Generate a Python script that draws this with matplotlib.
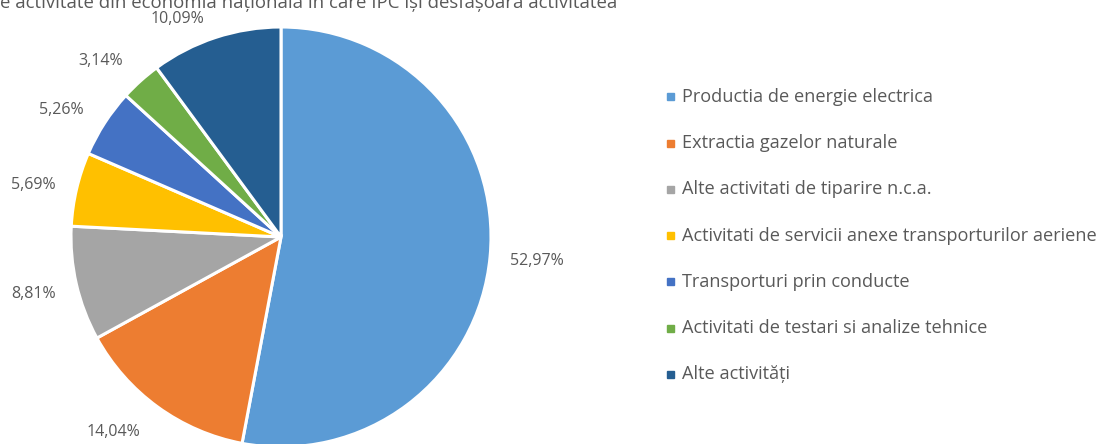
import matplotlib
matplotlib.use("Agg")
import numpy as np
import matplotlib.pyplot as plt
from matplotlib.patches import Rectangle

categories = [
    "Productia de energie electrica",
    "Extractia gazelor naturale",
    "Alte activitati de tiparire n.c.a.",
    "Activitati de servicii anexe transporturilor aeriene",
    "Transporturi prin conducte",
    "Activitati de testari si analize tehnice",
    "Alte activități",
]
values = [52.97, 14.04, 8.81, 5.69, 5.26, 3.14, 10.09]
value_labels = ["52,97%", "14,04%", "8,81%", "5,69%", "5,26%", "3,14%", "10,09%"]
colors = ["#5B9BD5", "#ED7D31", "#A5A5A5", "#FFC000", "#4472C4", "#70AD47", "#255E91"]
title = "e activitate din economia națională în care IPC își desfășoară activitatea"

# label layout nudges (degrees, radius factor) to mimic best-fit placement
label_angle_nudge = [0, -4.7, 0, 1.4, 2.9, 3.6, 7.2]
label_radius = [1.224, 1.224, 1.21, 1.205, 1.21, 1.20, 1.15]

W, H = 1102, 444
plt.rcParams['font.family'] = ['Open Sans', 'DejaVu Sans']
fig = plt.figure(figsize=(W / 100, H / 100), dpi=100)

cx, cy, R = 281, 237, 210
ax = fig.add_axes([(cx - R) / W, (H - cy - R) / H, 2 * R / W, 2 * R / H])
wedges, _ = ax.pie(
    values, colors=colors, startangle=90, counterclock=False,
    wedgeprops=dict(edgecolor="white", linewidth=2.2),
)
for w, lab, dn, rf in zip(wedges, value_labels, label_angle_nudge, label_radius):
    mid = np.deg2rad((w.theta1 + w.theta2) / 2 + dn)
    ax.text(rf * np.cos(mid), rf * np.sin(mid), lab, color="#595959",
            fontsize=11.5, ha="center", va="center")
ax.set_aspect("equal")
ax.set_xlim(-1, 1)
ax.set_ylim(-1, 1)

fig.text(0, 1 - 8 / H, title, color="#595959", fontsize=13.4, ha="left", va="baseline")

x0 = 682
for i, (cat, col) in enumerate(zip(categories, colors)):
    y = 97 + 46.2 * i
    fig.text(x0 / W, 1 - y / H, cat, color="#595959", fontsize=13.1, ha="left", va="center")
    fig.patches.append(Rectangle(((x0 - 15) / W, 1 - (y + 3.5) / H), 7 / W, 7 / H,
                                 transform=fig.transFigure, color=col, figure=fig))

fig.savefig("out.png", dpi=100)
